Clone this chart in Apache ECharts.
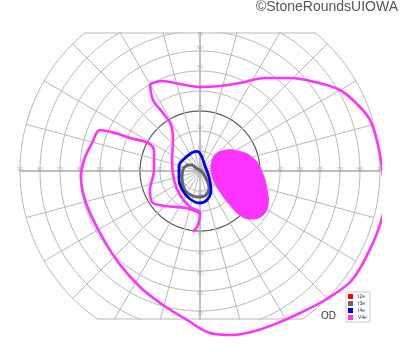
<!DOCTYPE html>
<html><head><meta charset="utf-8">
<script src="https://cdn.jsdelivr.net/npm/echarts@6/dist/echarts.min.js"></script>
<style>html,body{margin:0;padding:0;background:#fff}#c{width:400px;height:352px}</style>
</head><body><div id="c"></div>
<script>
// ---- chart values (degrees of visual field: x = temporal(+)/nasal(-), y = superior(+)/inferior(-)) ----
const ringDegrees = [10, 20, 30, 40, 50, 60, 70, 80, 90];
const meridianDegrees = [0, 15, 30, 45, 60, 75, 90, 105, 120, 135, 150, 165, 180, 195, 210, 225, 240, 255, 270, 285, 300, 315, 330, 345];
const horizontalTickLabels = ['10', '20', '30', '40', '50', '60', '70', '80', '90'];
const verticalTickLabels = ['10', '20', '30', '40', '50', '60', '70'];
const legendNames = ['I2e', 'I3e', 'I4e', 'V4e'];

const isopterI2e = [];
const isopterI3e = [[-8.5,1],[-6,3],[-4,3],[-2,1.5],[0.5,0],[3,-3.5],[4.5,-8.5],[3,-12],[-1,-13],[-5.5,-11.5],[-8,-8.5],[-9,-3.5],[-8.5,1]];
const isopterI4e = [[-3.5,9.5],[-7.5,6.5],[-10.5,2.5],[-10.5,-4.5],[-8.5,-10],[-5,-14],[-0.5,-16],[3.5,-14.5],[5.5,-9.5],[4.5,-3],[2.5,2.5],[0.5,8],[-1.5,9.8],[-3.5,9.5]];
const isopterV4eOuter = [[-25,43.5],[-19,45],[-10,43.5],[0,42],[10,42.5],[20,44],[32.5,46.5],[45,46.5],[57.5,44.5],[70,40.5],[79,33],[85,25.5],[89,13],[91.5,-2],[92.5,-14.5],[91,-23.5],[86,-37],[76,-54.5],[62.5,-64.5],[50,-71],[40,-75.5],[27.5,-80],[16,-82],[5,-81],[-6.5,-74.5],[-18.5,-67],[-30,-58],[-41,-45.5],[-50,-31],[-57,-16],[-59.5,-3],[-58,5.5],[-54,14],[-50,20.5],[-42.5,19],[-35,16.5],[-26,14],[-23,10],[-23,0.5],[-25,-9.5],[-24,-15.5],[-17.5,-17.5],[-7,-18.5],[0,-21]];
const isopterV4eNotch = [[-25,43.5],[-23.5,35.5],[-18.5,29],[-14.5,23],[-13.5,15.5],[-14,5.5],[-13,-4.5],[-10,-12],[-5,-18],[0,-21],[-1,-27],[-3.5,-30.5]];
const scotomaV4e = [[6.5,6.5],[11,10],[19,10],[26.5,6.5],[31,-0.5],[33.5,-9.5],[34,-17],[31.5,-22],[26,-24],[20.5,-22.5],[15,-17],[9.5,-9.5],[6,-2]];

// ---- styling ----
const C_GRID = '#b8b8b8', C_RING30 = '#5a5a5a';
const C_I2 = '#ff0000', C_I3 = '#666666', C_I4 = '#0000ee', C_V4 = '#ff33ff';
const TOP_LIMIT = 69, BOTTOM_LIMIT = -74;
const rad = d => d * Math.PI / 180;

const series = [];
ringDegrees.forEach(r => {
  const pts = [];
  for (let a = 0; a <= 360; a += 2) pts.push([r * Math.cos(rad(a)), r * Math.sin(rad(a))]);
  series.push({ type: 'line', data: pts, symbol: 'none', silent: true, z: 1, clip: true,
    lineStyle: { color: r === 30 ? C_RING30 : C_GRID, width: r === 30 ? 1.2 : 1 } });
});
meridianDegrees.forEach(a => {
  series.push({ type: 'line', data: [[0, 0], [90 * Math.cos(rad(a)), 90 * Math.sin(rad(a))]],
    symbol: 'none', silent: true, z: 1, clip: true,
    lineStyle: { color: (a % 90 === 0) ? '#aaaaaa' : C_GRID, width: (a % 90 === 0) ? 1.4 : 1 } });
});
const xt = Math.sqrt(90 * 90 - TOP_LIMIT * TOP_LIMIT), xb = Math.sqrt(90 * 90 - BOTTOM_LIMIT * BOTTOM_LIMIT);
series.push({ type: 'line', data: [[-xt, TOP_LIMIT], [xt, TOP_LIMIT]], symbol: 'none', silent: true, z: 1, clip: false, lineStyle: { color: C_GRID, width: 1 } });
series.push({ type: 'line', data: [[-xb, BOTTOM_LIMIT], [xb, BOTTOM_LIMIT]], symbol: 'none', silent: true, z: 1, clip: false, lineStyle: { color: C_GRID, width: 1 } });

const labelData = [];
horizontalTickLabels.forEach(t => { const r = +t; labelData.push([-r, 0.8, t]); labelData.push([r, 0.8, t]); });
verticalTickLabels.forEach(t => { const r = +t; labelData.push([0, r === 70 ? 68 : r + 1.5, t]); labelData.push([0, -(r + 1.5), t]); });
series.push({ type: 'scatter', data: labelData, symbolSize: 0, silent: true, z: 2,
  label: { show: true, position: 'inside', formatter: p => p.value[2], fontSize: 5, color: '#9a9a9a', fontFamily: 'Liberation Sans' } });

series.push({ type: 'custom', name: 'V4e', z: 3, clip: false, silent: true, data: [0],
  itemStyle: { color: C_V4 },
  renderItem: (params, api) => {
    const pts = scotomaV4e.map(p => api.coord(p));
    return { type: 'polygon', shape: { points: pts, smooth: 0.45 }, style: { fill: C_V4, stroke: C_V4, lineWidth: 1 } };
  } });

const iso = (name, data, color, w) => ({ type: 'line', name, data, symbol: 'none', smooth: 0.35, z: 4, clip: false, silent: true,
  itemStyle: { color }, lineStyle: { color, width: w } });
series.push(iso('I2e', isopterI2e, C_I2, 2.5));
series.push(iso('I3e', isopterI3e, C_I3, 3));
series.push(iso('I4e', isopterI4e, C_I4, 2.8));
series.push(iso('V4e', isopterV4eOuter, C_V4, 2.6));
series.push(iso('V4e', isopterV4eNotch, C_V4, 2.6));

const chart = echarts.init(document.getElementById('c'), null, { renderer: 'canvas' });
chart.setOption({
  animation: false,
  backgroundColor: '#fff',
  grid: { left: 20, right: 20, top: 33, bottom: 33 },
  xAxis: { type: 'value', min: -90, max: 90, show: false },
  yAxis: { type: 'value', min: BOTTOM_LIMIT, max: TOP_LIMIT, show: false },
  legend: { data: legendNames, orient: 'vertical', left: 346, top: 292, itemWidth: 5, itemHeight: 5, itemGap: 2,
    padding: [2, 3, 2, 2], borderColor: '#cccccc', borderWidth: 1, icon: 'rect', selectedMode: false,
    textStyle: { fontSize: 5, color: '#333', fontFamily: 'Liberation Sans' } },
  graphic: [
    { type: 'text', right: 2, top: 0, style: { text: '©StoneRoundsUIOWA', font: '14px "Liberation Sans"', fill: '#555' } },
    { type: 'text', left: 321, top: 311, style: { text: 'OD', font: '10px "Liberation Sans"', fill: '#333' } }
  ],
  series
});
</script>
</body></html>
